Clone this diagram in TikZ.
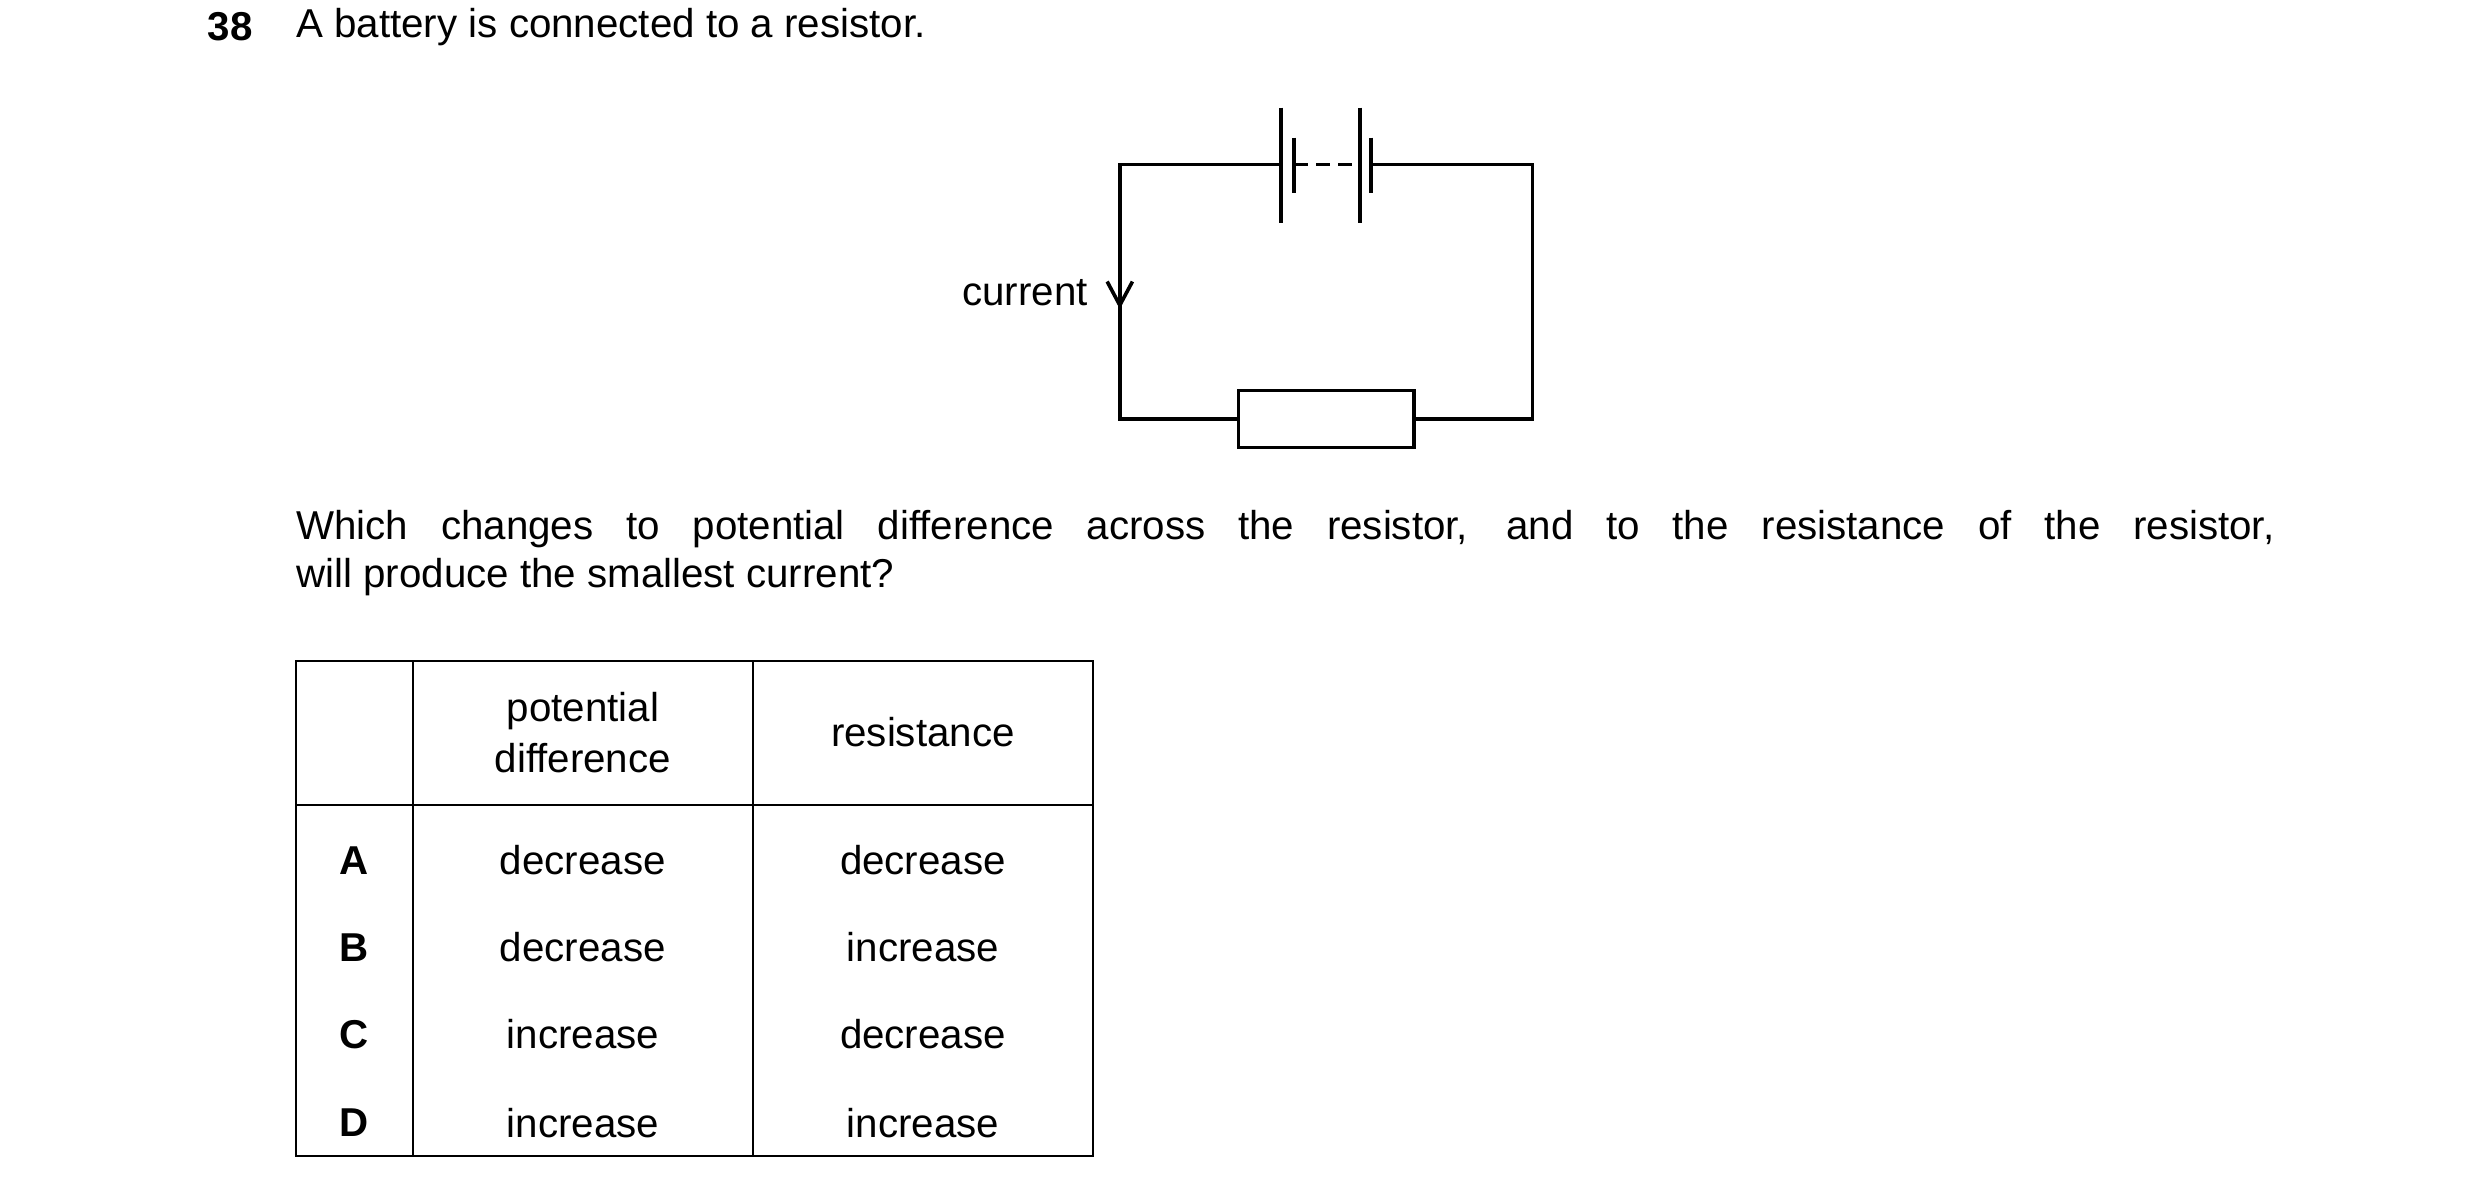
\documentclass[tikz,border=0pt]{standalone}
\usepackage{fontspec}
\setmainfont{Liberation Sans}
\usetikzlibrary{arrows.meta}
\begin{document}
\begin{tikzpicture}[x=0.02cm,y=-0.02cm,
  txt/.style={font=\fontsize{14.5}{17.5}\selectfont, inner sep=0pt},
  wire/.style={line width=1.3pt},
  grid/.style={line width=0.9pt}]
\useasboundingbox (0,0) rectangle (1568,757);
\node[txt,anchor=west,font=\bfseries\fontsize{14.5}{17.5}\selectfont] (num) at (131,17) {38};
\node[txt,anchor=west] (title) at (187,17) {A battery is connected to a resistor.};
% circuit
\coordinate (tl) at (708,104); \coordinate (tr) at (969,104);
\coordinate (bl) at (708,265); \coordinate (br) at (969,265);
\coordinate (b1) at (810,104); \coordinate (b2) at (867,104);
\node[draw,wire,minimum width=111*0.02cm,minimum height=36*0.02cm,inner sep=0pt] (R) at (838.5,265) {};
\draw[wire] (b1) -- (tl) -- (bl) -- (R.west);
\draw[wire] (b2) -- (tr) -- (br) -- (R.east);
\draw[wire] (810,68) -- (810,141);
\draw[wire] (818,87) -- (818,122);
\draw[wire] (860,68) -- (860,141);
\draw[wire] (867,87) -- (867,122);
\draw[wire,dash pattern=on 5pt off 3pt] (818,104) -- (860,104);
\coordinate (a1) at (708,176); \coordinate (a2) at (708,193);
\draw[wire] (700,178) -- (708,193) -- (716,178);
\node[txt,anchor=east] (cur) at (688,185) {current};
% question
\node[txt,anchor=north west,text width=25.02cm,align=justify] (q) at (187,322)
 {Which changes to potential difference across the resistor, and to the resistance of the resistor,\linebreak will produce the smallest current?};
% table
\draw[grid] (187,418) rectangle (691,731);
\draw[grid] (261,418) -- (261,731) (476,418) -- (476,731) (187,509) -- (691,509);
\node[txt,align=center] (h1) at (368.5,463) {potential\\[1pt]difference};
\node[txt] (h2) at (583.5,463) {resistance};
\foreach \y/\l/\p/\r in {544/A/decrease/decrease,599/B/decrease/increase,654/C/increase/decrease,710/D/increase/increase}{
  \node[txt,font=\bfseries\fontsize{14.5}{17.5}\selectfont] (L\l) at (224,\y) {\l};
  \node[txt] (P\l) at (368.5,\y) {\p};
  \node[txt] (R\l) at (583.5,\y) {\r};
}
\end{tikzpicture}
\end{document}
